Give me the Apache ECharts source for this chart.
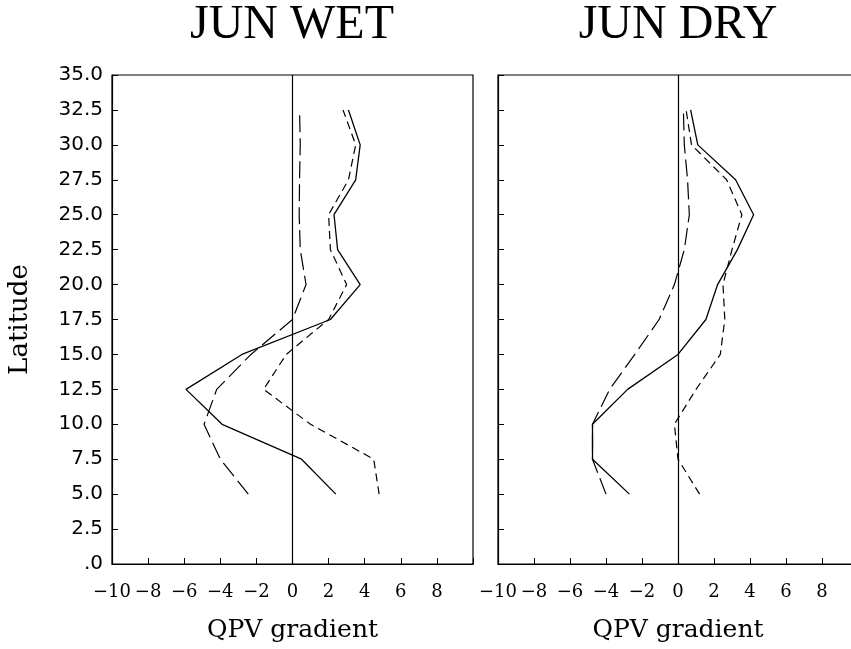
<!DOCTYPE html>
<html>
<head>
<meta charset="utf-8">
<script src="https://cdn.jsdelivr.net/npm/echarts@6/dist/echarts.min.js"></script>
<style>
html,body{margin:0;padding:0;background:#fff;}
#chart{width:851px;height:649px;}
</style>
</head>
<body>
<div id="chart"></div>
<script>
const latitudes = [5, 7.5, 10, 12.5, 15, 17.5, 20, 22.5, 25, 27.5, 30, 32.5];
const wetSolid = [2.4, 0.5, -3.9, -5.9, -2.8, 2.1, 3.75, 2.5, 2.3, 3.5, 3.75, 3.1];
const wetShortDash = [4.8, 4.5, 1.0, -1.6, -0.35, 2.0, 3.0, 2.1, 2.0, 3.1, 3.5, 2.8];
const wetLongDash = [-2.45, -4.0, -4.9, -4.2, -2.3, 0.0, 0.75, 0.43, 0.37, 0.39, 0.43, 0.39];
const drySolid = [-2.7, -4.75, -4.75, -2.8, 0.0, 1.55, 2.2, 3.3, 4.2, 3.2, 1.1, 0.7];
const dryShortDash = [1.2, 0.0, -0.2, 1.0, 2.35, 2.6, 2.5, 3.0, 3.55, 2.7, 0.75, 0.45];
const dryLongDash = [-4.0, -4.75, -4.75, -3.8, -2.4, -1.05, -0.2, 0.35, 0.63, 0.53, 0.35, 0.3];
const panelTitles = ['JUN WET', 'JUN DRY'];
const xName = 'QPV gradient';
const yName = 'Latitude';

const pairs = vals => vals.map((v, i) => [v, latitudes[i]]);
const styles = [
  {type: 'solid', width: 1.3},
  {type: [8, 5], width: 1.2},
  {type: [17, 6], width: 1.2}
];
const panels = [[wetSolid, wetShortDash, wetLongDash], [drySolid, dryShortDash, dryLongDash]];

const chart = echarts.init(document.getElementById('chart'), null, {renderer: 'canvas'});

const xAxisBase = idx => ({
  type: 'value', gridIndex: idx, min: -10, max: 10, interval: 2,
  axisLine: {show: true, onZero: false, lineStyle: {color: '#000', width: 1.2}},
  axisTick: {show: true, inside: true, length: 6, lineStyle: {color: '#000', width: 1}},
  splitLine: {show: false},
  axisLabel: {
    margin: 19, color: '#000', fontFamily: 'DejaVu Serif', fontSize: 18,
    formatter: v => v === 10 ? '' : String(v).replace('-', '\u2212')
  },
  name: xName, nameLocation: 'middle', nameGap: 54,
  nameTextStyle: {color: '#000', fontFamily: 'DejaVu Serif', fontSize: 25}
});
const yAxisBase = idx => ({
  type: 'value', gridIndex: idx, min: 0, max: 35, interval: 2.5,
  axisLine: {show: true, onZero: false, lineStyle: {color: '#000', width: 1.2}},
  axisTick: {show: true, inside: true, length: 6, lineStyle: {color: '#000', width: 1}},
  splitLine: {show: false},
  axisLabel: {
    show: idx === 0, margin: 9, color: '#000', fontFamily: 'DejaVu Sans', fontSize: 20,
    formatter: v => v === 0 ? '.0' : v.toFixed(1)
  },
  name: idx === 0 ? yName : '', nameLocation: 'middle', nameGap: 79,
  nameTextStyle: {color: '#000', fontFamily: 'DejaVu Serif', fontSize: 26}
});

const series = [];
panels.forEach((lines, p) => {
  lines.forEach((vals, k) => {
    const s = {
      type: 'line', xAxisIndex: p, yAxisIndex: p, data: pairs(vals),
      showSymbol: false, symbol: 'none', silent: true, animation: false,
      lineStyle: {color: '#000', width: styles[k].width, type: styles[k].type}
    };
    if (k === 0) {
      s.markLine = {
        silent: true, symbol: 'none', animation: false,
        label: {show: false},
        lineStyle: {color: '#000', type: 'solid', width: 1.2},
        data: [{xAxis: 0}]
      };
    }
    series.push(s);
  });
});

chart.setOption({
  backgroundColor: '#fff',
  animation: false,
  grid: [
    {left: 112, top: 75, width: 361, height: 489, outerBoundsMode: 'none', containLabel: false, show: true, borderColor: '#000', borderWidth: 1.2, backgroundColor: 'transparent'},
    {left: 498, top: 75, width: 360, height: 489, outerBoundsMode: 'none', containLabel: false, show: true, borderColor: '#000', borderWidth: 1.2, backgroundColor: 'transparent'}
  ],
  xAxis: [xAxisBase(0), xAxisBase(1)],
  yAxis: [yAxisBase(0), yAxisBase(1)],
  graphic: [
    {type: 'text', x: 292, y: 25, style: {text: panelTitles[0], fill: '#000', font: '48px "Liberation Serif"', textAlign: 'center', textVerticalAlign: 'middle'}},
    {type: 'text', x: 678, y: 25, style: {text: panelTitles[1], fill: '#000', font: '48px "Liberation Serif"', textAlign: 'center', textVerticalAlign: 'middle'}}
  ],
  series: series
});
</script>
</body>
</html>
